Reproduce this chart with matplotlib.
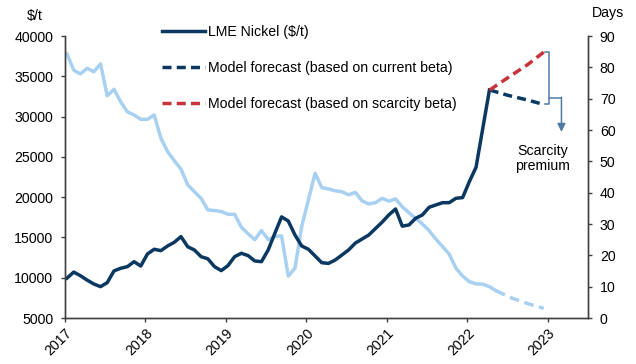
import numpy as np
import matplotlib
matplotlib.use("Agg")
import matplotlib.pyplot as plt

plt.rcParams["font.family"] = ["Liberation Sans", "DejaVu Sans"]
plt.rcParams["font.size"] = 10.2

# LME nickel price, monthly from Jan 2017 ($/t)
nickel = [9950, 10700, 10250, 9700, 9220, 8890, 9390, 10840, 11170, 11370, 11990, 11450,
          12950, 13530, 13360, 13940, 14400, 15100, 13850, 13440, 12610, 12350, 11370, 10880,
          11500, 12610, 13030, 12750, 12080, 11990, 13440, 15520, 17550, 17040, 15300, 13940,
          13530, 12700, 11860, 11780, 12200, 12820, 13450, 14300, 14800, 15300, 16100, 16900,
          17800, 18530, 16400, 16550, 17380, 17790, 18740, 19030, 19310, 19310, 19860, 19940,
          21920, 23700, 28500, 33300]

# Stocks in days of consumption, monthly from Jan 2017
stock_days = [84.3, 79.1, 77.9, 79.7, 78.6, 81.1, 70.9, 73.0, 69.0, 65.8, 64.8, 63.4,
              63.4, 64.8, 57.4, 53.1, 50.2, 47.5, 42.5, 40.3, 38.2, 34.5, 34.3, 34.0,
              33.1, 33.1, 29.0, 26.9, 25.0, 27.9, 25.0, 26.0, 26.2, 13.4, 15.9, 29.2,
              37.7, 46.2, 41.6, 41.2, 40.6, 40.3, 39.3, 40.1, 37.4, 36.4, 36.8, 38.2,
              37.3, 38.0, 35.5, 33.6, 31.8, 30.0, 27.9, 25.2, 22.8, 20.4, 15.9, 13.4,
              11.6, 10.9, 10.8, 10.0, 8.7]

# forecasts to end 2022 (decimal years)
fc_dates = [2022.278, 2022.5, 2022.75, 2022.95]
fc_current = [33300, 32650, 32050, 31500]
fc_scarcity = [33300, 34800, 36450, 38000]
days_fc_dates = [2022.358, 2022.55, 2022.75, 2022.95]
days_fc = [8.7, 6.4, 4.6, 3.1]

navy = "#0b3861"
light = "#a8d1f1"
red = "#c9343a"
bracket = "#4f7ba3"

t_nickel = 2017 + (np.arange(len(nickel)) + 0.3) / 12
t_days = 2017 + (np.arange(len(stock_days)) + 0.3) / 12

fig = plt.figure(figsize=(6.36, 3.64), dpi=100)
ax = fig.add_axes([65 / 636, 1 - 318 / 364, 523 / 636, 282 / 364])
ax2 = ax.twinx()

ax2.plot(t_days, stock_days, color=light, lw=2.5, solid_capstyle="round")
ax2.plot(days_fc_dates, days_fc, color=light, lw=2.5, dashes=(2.8, 1.6))

ax.set_zorder(ax2.get_zorder() + 1)
ax.patch.set_visible(False)

ln1, = ax.plot(t_nickel, nickel, color=navy, lw=2.5, label="LME Nickel ($/t)")
ln2, = ax.plot(fc_dates, fc_current, color=navy, lw=2.5, dashes=(2.6, 1.5),
               label="Model forecast (based on current beta)")
ln3, = ax.plot(fc_dates, fc_scarcity, color=red, lw=2.5, dashes=(2.6, 1.5),
               label="Model forecast (based on scarcity beta)")

# bracket between the two forecast end points
x_end = fc_dates[-1]
xb = x_end + 0.07
ax.plot([x_end + 0.01, xb, xb, x_end + 0.01],
        [fc_scarcity[-1], fc_scarcity[-1], fc_current[-1], fc_current[-1]],
        color=bracket, lw=1.1)
ax.plot([xb, xb + 0.15], [fc_current[-1] + 850] * 2, color=bracket, lw=1.1)
ax.annotate("", xy=(xb + 0.15, 28100), xytext=(xb + 0.15, fc_current[-1] + 850 + 60),
            arrowprops=dict(arrowstyle="-|>", color=bracket, lw=1.1,
                            mutation_scale=12, shrinkA=0, shrinkB=0))
ax.text(x_end - 0.01, 24800, "Scarcity\npremium", ha="center", va="center",
        linespacing=1.05)

ax.set_xlim(2017, 2023.5)
ax.set_ylim(5000, 40000)
ax2.set_ylim(0, 90)
ax.set_xticks(range(2017, 2024))
ax.set_xticklabels([str(y) for y in range(2017, 2024)], rotation=45,
                   ha="right", rotation_mode="anchor")
ax.set_yticks(range(5000, 40001, 5000))
ax2.set_yticks(range(0, 91, 10))

for a in (ax, ax2):
    a.spines["top"].set_visible(False)
    for s in ("left", "right", "bottom"):
        a.spines[s].set_color("#404040")
        a.spines[s].set_linewidth(1.0)
    a.tick_params(axis="y", length=3, width=1.0, color="#404040", labelsize=10.2, pad=5.5)
ax.tick_params(axis="x", length=3, width=1.0, color="#404040", labelsize=10.2, pad=3)

fig.text(35 / 636, 1 - 16 / 364, "$/t", ha="center", va="center", fontsize=10.2)
fig.text(608 / 636, 1 - 13 / 364, "Days", ha="center", va="center", fontsize=10.2)

fig.legend(handles=[ln1, ln2, ln3], loc="upper left",
           bbox_to_anchor=(155 / 636, 1 - 18 / 364), frameon=False,
           borderpad=0, handlelength=3.0, handletextpad=0.25, labelspacing=1.55,
           fontsize=10.2)

fig.savefig("out.png", dpi=100)
